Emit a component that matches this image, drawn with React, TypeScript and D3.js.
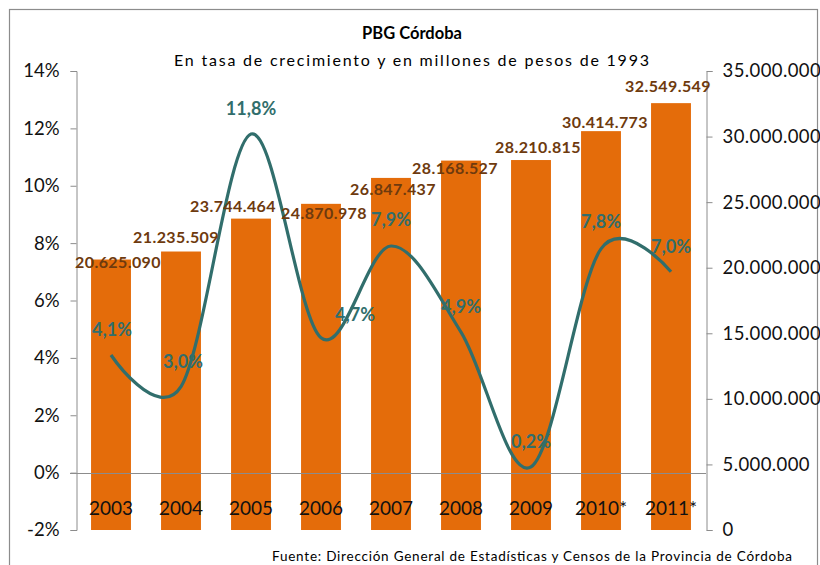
import React, { useEffect, useRef } from 'react';
import * as d3 from 'd3';

// data
const years = ['2003', '2004', '2005', '2006', '2007', '2008', '2009', '2010*', '2011*'];
const pbg = [20625090, 21235509, 23744464, 24870978, 26847437, 28168527, 28210815, 30414773, 32549549];
const growth = [4.1, 3.0, 11.8, 4.7, 7.9, 4.9, 0.2, 7.8, 7.0];
const leftTicks = [-2, 0, 2, 4, 6, 8, 10, 12, 14];
const rightTicks = [0, 5e6, 10e6, 15e6, 20e6, 25e6, 30e6, 35e6];

// hand-moved label positions (dx, dy) as in the original
const pbgLabelShift = [[7, 2], [-5, -15], [-18, -13], [3, 9], [2, 11], [-6, 7], [7, -14], [4, -10], [-3, -18]];
const growthLabelShift = [[1, -26], [2, -26], [0, -26], [34, -24], [0, -27], [0, -26], [0, -26], [0, -28], [0, -26]];

const W = 820;
const H = 565;
const margin = { top: 71, right: 114, bottom: 35, left: 76 };

const ORANGE = '#E46C0A';
const BROWN = '#6E3A0E';
const TEAL = '#316E6C';
const AXIS = '#8C8C8C';
const FONT = 'Lato, "Open Sans", sans-serif';

const fmtNum = (v: number) => d3.format(',')(v).replace(/,/g, '.');
const fmtPct = (v: number) => v.toFixed(1).replace('.', ',') + '%';

function Chart() {
  const ref = useRef<SVGSVGElement>(null);

  useEffect(() => {
    const svg = d3.select(ref.current);
    svg.selectAll('*').remove();

    const x0 = margin.left;
    const x1 = W - margin.right;
    const y0 = H - margin.bottom;
    const y1 = margin.top;

    const x = d3.scaleBand().domain(years).range([x0, x1]).paddingInner(0.43).paddingOuter(0.215);
    const yL = d3.scaleLinear().domain([-2, 14]).range([y0, y1]);
    const yR = d3.scaleLinear().domain([0, 35e6]).range([y0, y1]);
    const cx = (i: number) => (x(years[i]) as number) + x.bandwidth() / 2;

    // frame
    svg.append('rect')
      .attr('x', 9.5).attr('y', 9.5)
      .attr('width', 808).attr('height', 600)
      .attr('fill', 'white').attr('stroke', AXIS).attr('stroke-width', 1.2);

    // title
    svg.append('text')
      .attr('x', 412).attr('y', 33)
      .attr('text-anchor', 'middle').attr('dominant-baseline', 'central')
      .attr('font-family', FONT).attr('font-weight', 'bold').attr('font-size', 16.5)
      .text('PBG Córdoba');
    svg.append('text')
      .attr('x', 174).attr('y', 59)
      .attr('dominant-baseline', 'central')
      .attr('font-family', FONT).attr('font-size', 16)
      .attr('textLength', 475).attr('lengthAdjust', 'spacing')
      .text('En tasa de crecimiento y en millones de pesos de 1993');

    // bars
    svg.append('g').selectAll('rect')
      .data(pbg)
      .join('rect')
      .attr('x', (d, i) => x(years[i]) as number)
      .attr('y', (d) => yR(d))
      .attr('width', x.bandwidth())
      .attr('height', (d) => y0 - yR(d))
      .attr('fill', ORANGE);

    // zero line
    svg.append('line')
      .attr('x1', x0 - 6).attr('x2', x1)
      .attr('y1', Math.round(yL(0)) + 0.5).attr('y2', Math.round(yL(0)) + 0.5)
      .attr('stroke', AXIS).attr('stroke-width', 1);

    // left axis
    const gl = svg.append('g').attr('transform', `translate(${x0 + 0.5},0)`)
      .call(d3.axisLeft(yL).tickValues(leftTicks).tickSize(6).tickPadding(11).tickFormat((d) => d + '%'));
    gl.select('.domain').attr('stroke', AXIS);
    gl.selectAll('line').attr('stroke', AXIS);
    gl.selectAll('text').attr('font-family', FONT).attr('font-size', 18.5).attr('fill', '#111');

    // right axis
    const gr = svg.append('g').attr('transform', `translate(${x1 + 0.5},0)`)
      .call(d3.axisRight(yR).tickValues(rightTicks).tickSize(6).tickPadding(10).tickFormat((d) => fmtNum(+d)));
    gr.select('.domain').attr('stroke', AXIS);
    gr.selectAll('line').attr('stroke', AXIS);
    gr.selectAll('text').attr('font-family', FONT).attr('font-size', 18.5)
      .attr('letter-spacing', 0.4).attr('fill', '#111');

    // year labels inside the bars
    svg.append('g').selectAll('text')
      .data(years)
      .join('text')
      .attr('x', (d, i) => cx(i))
      .attr('y', 507)
      .attr('text-anchor', 'middle').attr('dominant-baseline', 'central')
      .attr('font-family', FONT).attr('font-size', 19).attr('fill', '#111')
      .text((d) => d);

    // growth line
    const line = d3.line<number>()
      .x((d, i) => cx(i))
      .y((d) => yL(d))
      .curve(d3.curveCardinal.tension(0));
    svg.append('path')
      .datum(growth)
      .attr('d', line)
      .attr('fill', 'none')
      .attr('stroke', TEAL)
      .attr('stroke-width', 3.2);

    // bar value labels
    svg.append('g').selectAll('text')
      .data(pbg)
      .join('text')
      .attr('x', (d, i) => cx(i) + pbgLabelShift[i][0])
      .attr('y', (d, i) => yR(d) + pbgLabelShift[i][1])
      .attr('text-anchor', 'middle').attr('dominant-baseline', 'central')
      .attr('font-family', FONT).attr('font-weight', 'bold').attr('font-size', 16)
      .attr('letter-spacing', 0.4)
      .attr('fill', BROWN)
      .text((d) => fmtNum(d));

    // growth labels
    svg.append('g').selectAll('text')
      .data(growth)
      .join('text')
      .attr('x', (d, i) => cx(i) + growthLabelShift[i][0])
      .attr('y', (d, i) => yL(d) + growthLabelShift[i][1])
      .attr('text-anchor', 'middle').attr('dominant-baseline', 'central')
      .attr('font-family', FONT).attr('font-weight', 'bold').attr('font-size', 18)
      .attr('fill', TEAL)
      .text((d) => fmtPct(d));

    // source
    svg.append('text')
      .attr('x', 272).attr('y', 556)
      .attr('dominant-baseline', 'central')
      .attr('font-family', FONT).attr('font-size', 13.5)
      .attr('textLength', 520).attr('lengthAdjust', 'spacing')
      .text('Fuente: Dirección General de Estadísticas y Censos de la Provincia de Córdoba');
  }, []);

  return <svg ref={ref} width={W} height={H} style={{ display: 'block' }} />;
}

export default function App() {
  return (
    <div style={{ position: 'fixed', left: 0, top: 0, width: W, height: H, background: 'white' }}>
      <Chart />
    </div>
  );
}
